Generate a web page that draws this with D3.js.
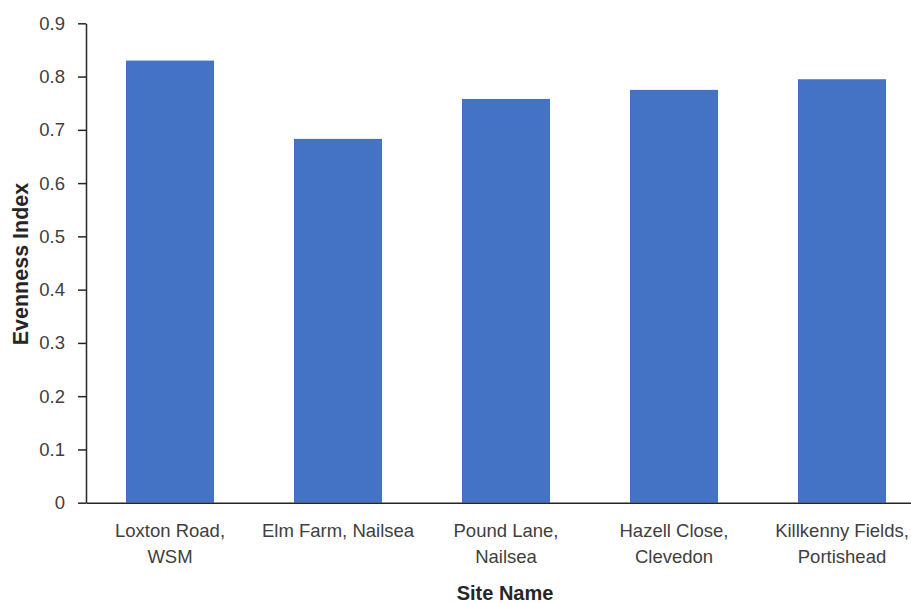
<!DOCTYPE html>
<html>
<head>
<meta charset="utf-8">
<script src="https://cdn.jsdelivr.net/npm/d3@7"></script>
<style>
  html, body { margin: 0; padding: 0; background: #fff; }
  svg { display: block; overflow: hidden; }
  text { font-family: "Liberation Sans", Arial, sans-serif; }
</style>
</head>
<body>
<svg id="chart" width="911" height="603"></svg>
<script>
// Site names and their evenness index values
const sites = ["Loxton Road, WSM", "Elm Farm, Nailsea", "Pound Lane, Nailsea", "Hazell Close, Clevedon", "Killkenny Fields, Portishead"];
const siteLabelLines = [["Loxton Road,", "WSM"], ["Elm Farm, Nailsea"], ["Pound Lane,", "Nailsea"], ["Hazell Close,", "Clevedon"], ["Killkenny Fields,", "Portishead"]];
const evenness = [0.83, 0.683, 0.758, 0.775, 0.795];
const yTicks = [0, 0.1, 0.2, 0.3, 0.4, 0.5, 0.6, 0.7, 0.8, 0.9];

const svg = d3.select("#chart");
const plotLeft = 86, plotTop = 23.3, plotBottom = 502.7;
// The plot area runs past the right edge of the page
const plotRight = 926;

const x = d3.scaleBand().domain(sites).range([plotLeft, plotRight]).paddingInner(0.476).paddingOuter(0.238);
const y = d3.scaleLinear().domain([0, 0.9]).range([plotBottom, plotTop]);

// Bars
svg.append("g").selectAll("rect").data(sites).join("rect")
  .attr("x", d => x(d))
  .attr("y", (d, i) => y(evenness[i]))
  .attr("width", x.bandwidth())
  .attr("height", (d, i) => y(0) - y(evenness[i]))
  .attr("fill", "#4472C4");

// Y axis
const yAxis = svg.append("g").attr("transform", `translate(${plotLeft},0)`)
  .call(d3.axisLeft(y).tickValues(yTicks).tickSize(8).tickSizeOuter(0).tickFormat(d => d === 0 ? "0" : d3.format(".1f")(d)));
yAxis.select(".domain").attr("stroke", "#262626").attr("stroke-width", 1.5);
yAxis.selectAll(".tick line").attr("stroke", "#262626").attr("stroke-width", 1.5);
yAxis.selectAll(".tick text").attr("x", -21).attr("fill", "#404040").attr("font-size", 18.5).attr("font-family", "Liberation Sans, Arial, sans-serif");

// X axis line
const xAxis = svg.append("g").attr("transform", `translate(0,${plotBottom})`)
  .call(d3.axisBottom(x).tickSize(0).tickSizeOuter(0).tickFormat(""));
xAxis.select(".domain").attr("stroke", "#262626").attr("stroke-width", 1.5);

// Category labels, wrapped across lines
const catLabels = svg.append("g").selectAll("text").data(sites).join("text")
  .attr("text-anchor", "middle")
  .attr("fill", "#404040")
  .attr("font-size", 18.5)
  .attr("transform", d => `translate(${x(d) + x.bandwidth() / 2},0)`);
catLabels.each(function(d, i) {
  const t = d3.select(this);
  siteLabelLines[i].forEach((line, j) => {
    t.append("tspan").attr("x", 0).attr("y", 537 + j * 26).text(line);
  });
});

// Axis titles
svg.append("text")
  .attr("x", 505).attr("y", 600)
  .attr("text-anchor", "middle")
  .attr("font-weight", "bold").attr("font-size", 20).attr("fill", "#262626")
  .text("Site Name");

svg.append("text")
  .attr("transform", `translate(28,264) rotate(-90)`)
  .attr("text-anchor", "middle")
  .attr("font-weight", "bold").attr("font-size", 21.5).attr("fill", "#262626")
  .text("Evenness Index");
</script>
</body>
</html>
